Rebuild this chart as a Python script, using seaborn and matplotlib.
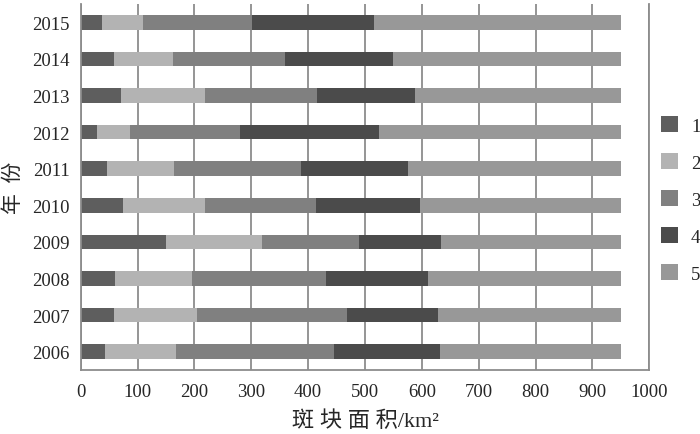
import numpy as np
import pandas as pd
import matplotlib
matplotlib.use("Agg")
import matplotlib.pyplot as plt
from matplotlib.patches import Patch
import seaborn as sns

# patch area per class (km^2)
years = ["2015", "2014", "2013", "2012", "2011", "2010", "2009", "2008", "2007", "2006"]
class_1 = [38, 59, 70, 28, 46, 74, 150, 60, 59, 42]
class_2 = [72, 103, 148, 59, 118, 144, 168, 136, 145, 125]
class_3 = [192, 197, 198, 194, 224, 195, 171, 235, 265, 279]
class_4 = [214, 190, 172, 244, 187, 183, 145, 180, 160, 186]
class_5 = [434, 401, 362, 425, 375, 354, 316, 339, 321, 318]
class_names = ["1", "2", "3", "4", "5"]
colors = ["#5e5e5e", "#b3b3b3", "#808080", "#4b4b4b", "#989898"]

sns.set_style("white")
plt.rcParams["font.family"] = ["Liberation Serif", "Noto Sans CJK SC"]
plt.rcParams["font.size"] = 13

df = pd.DataFrame({"year": years, "1": class_1, "2": class_2, "3": class_3,
                   "4": class_4, "5": class_5})
cum = df[class_names].cumsum(axis=1)
cum["year"] = df["year"]

fig = plt.figure(figsize=(7, 4.35), dpi=100)
ax = fig.add_axes([0.1153, 0.1471, 0.8123, 0.8414])

# draw cumulative totals from the longest down so the pieces stack
for name, col in reversed(list(zip(class_names, colors))):
    sns.barplot(data=cum, y="year", x=name, order=years, color=col,
                saturation=1, width=0.4, errorbar=None, orient="h",
                linewidth=0, ax=ax)

grid_col = "#8c8c8c"
ax.set_xlim(0, 1000)
ax.set_xticks(np.arange(0, 1001, 100))
ax.xaxis.grid(True, color=grid_col, lw=1.3)
ax.yaxis.grid(False)
ax.set_axisbelow(True)
for side in ["left", "bottom", "right"]:
    ax.spines[side].set_color(grid_col)
    ax.spines[side].set_linewidth(1.3)
ax.spines["top"].set_visible(False)
ax.tick_params(axis="x", direction="out", length=4, color=grid_col, width=1.3, pad=5, labelsize=13.5)
ax.tick_params(axis="y", length=0, pad=8, labelsize=13.5)

ax.set_xlabel("斑 块 面 积/km²", fontsize=16)
ax.set_ylabel("年  份", fontsize=15)
ax.xaxis.set_label_coords(0.5, -0.11)
ax.yaxis.set_label_coords(-0.10, 0.5)

handles = [Patch(facecolor=c, edgecolor="none") for c in colors]
ax.legend(handles, class_names, loc="center left", bbox_to_anchor=(661 / 700, 0.539),
          bbox_transform=fig.transFigure, frameon=False, borderpad=0, borderaxespad=0,
          handlelength=0.9, handleheight=0.9, handletextpad=0.7, labelspacing=1.0,
          fontsize=13.5)

fig.savefig("out.png", dpi=100)
